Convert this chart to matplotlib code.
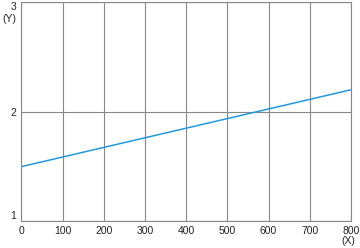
import matplotlib
matplotlib.use("Agg")
import matplotlib.pyplot as plt

# data
xVals = [0, 800]
yVals = [1.5, 2.2]
xTicks = [0, 100, 200, 300, 400, 500, 600, 700, 800]
yTicks = [1, 2, 3]

plt.rcParams['font.family'] = ['Liberation Sans', 'DejaVu Sans']

fig = plt.figure(figsize=(3.6, 2.48), dpi=100)
ax = fig.add_axes([0.0597, 0.107, 0.915, 0.885])

ax.plot(xVals, yVals, color='#2299dc', linewidth=1.1, solid_capstyle='butt')

ax.set_xlim(0, 800)
ax.set_ylim(1, 3)
ax.set_xticks(xTicks)
ax.set_yticks(yTicks)
ax.grid(True, color='#888888', linewidth=0.8)
ax.set_axisbelow(True)
for s in ax.spines.values():
	s.set_color('#888888')
	s.set_linewidth(0.8)
ax.tick_params(length=0, labelsize=7.5, colors='#222222', pad=3)
ax.tick_params(axis='y', pad=4)

# primeiro e ultimo rotulo do eixo y ficam dentro da area
ylabs = ax.get_yticklabels()
ylabs[0].set_va('bottom')
ylabs[-1].set_va('top')

#rotulos dos eixos
fig.text(2/360, 1 - 19/248, '(Y)', fontsize=7.5, color='#222222', ha='left', va='center')
fig.text(348/360, 1 - 241/248, '(X)', fontsize=7.5, color='#222222', ha='center', va='center')

fig.savefig('out.png', dpi=100)
